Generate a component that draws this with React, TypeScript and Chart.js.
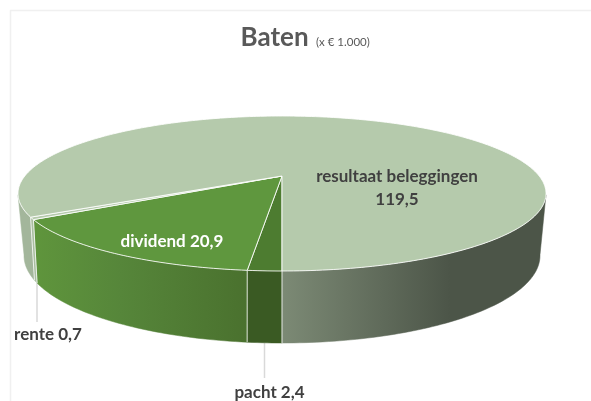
import React, { useEffect, useRef } from "react";
import { Chart, registerables } from "chart.js";

Chart.register(...registerables);

const categories = ["pacht", "dividend", "rente", "resultaat beleggingen"];
const values = [2.4, 20.9, 0.7, 119.5];
const topColors = ["#4d7c30", "#5f973e", "#b5caac", "#b5caac"];
const titleText = "Baten";
const subtitleText = "(x € 1.000)";

const fmt = (v: number) => v.toFixed(1).replace(".", ",");

const CX = 282;
const DEG = Math.PI / 180;
type Lens = { b: number; a: number; k: number; y0: number };
const TOP: Lens = { b: 257.2, a: 73.55, k: 0.2258, y0: 176 };
const BOTTOM: Lens = { b: 249.8, a: 81.9, k: 0.25, y0: 233.8 };

function project(l: Lens, t: number) {
  const u = Math.cos(t);
  const v = Math.sin(t);
  const w = 1 - l.k * v;
  return { x: CX + (l.b * u) / w, y: l.y0 + (l.a * v) / w };
}

const VISIBLE: [number, number][] = [
  [14 * DEG, 166 * DEG],
  [374 * DEG, 526 * DEG],
];

function wallStyle(ctx: CanvasRenderingContext2D, i: number, seg: [number, number]) {
  if (i === 0) return "#3a5a23";
  if (i === 1) {
    const g = ctx.createLinearGradient(35, 0, 248, 0);
    g.addColorStop(0, "#5f953c");
    g.addColorStop(0.4, "#56863a");
    g.addColorStop(1, "#4a712e");
    return g;
  }
  if (i === 2) return "#a9bea0";
  if (seg[0] < 180 * DEG) return "#a3b69b";
  const g = ctx.createLinearGradient(282, 0, 450, 0);
  g.addColorStop(0, "#7c8a75");
  g.addColorStop(1, "#4c5548");
  return g;
}

const pie3d = {
  id: "pie3d",
  beforeDatasetDraw(chart: any) {
    const ctx: CanvasRenderingContext2D = chart.ctx;
    const arcs = chart.getDatasetMeta(0).data as any[];
    const colors = chart.data.datasets[0].backgroundColor as string[];
    const spans = arcs.map((a) => [a.startAngle, a.endAngle] as [number, number]);
    ctx.save();
    ctx.lineJoin = "round";

    // frame
    ctx.strokeStyle = "#f0f0f0";
    ctx.lineWidth = 1.5;
    ctx.beginPath();
    ctx.moveTo(10.5, 401);
    ctx.lineTo(10.5, 10.5);
    ctx.lineTo(591, 10.5);
    ctx.stroke();

    // leader lines
    ctx.strokeStyle = "#d9d9d9";
    ctx.lineWidth = 1.5;
    ctx.beginPath();
    ctx.moveTo(37, 283);
    ctx.lineTo(37, 322);
    ctx.moveTo(264.5, 343);
    ctx.lineTo(264.5, 378);
    ctx.stroke();

    // side walls
    spans.forEach(([s, e], i) => {
      VISIBLE.forEach((range) => {
        const a = Math.max(s, range[0]);
        const b = Math.min(e, range[1]);
        if (b <= a) return;
        const n = Math.max(2, Math.ceil((b - a) / (1 * DEG)));
        ctx.beginPath();
        for (let j = 0; j <= n; j++) {
          const p = project(TOP, a + ((b - a) * j) / n);
          if (j === 0) ctx.moveTo(p.x, p.y);
          else ctx.lineTo(p.x, p.y);
        }
        for (let j = n; j >= 0; j--) {
          const p = project(BOTTOM, a + ((b - a) * j) / n);
          ctx.lineTo(p.x, p.y);
        }
        ctx.closePath();
        const style = wallStyle(ctx, i, range);
        ctx.fillStyle = style;
        ctx.fill();
        ctx.strokeStyle = style;
        ctx.lineWidth = 0.5;
        ctx.stroke();
      });
    });

    // wall dividers
    ctx.strokeStyle = "rgba(255,255,255,0.8)";
    ctx.lineWidth = 1;
    spans.forEach(([s]) => {
      const p = project(TOP, s);
      const q = project(BOTTOM, s);
      ctx.beginPath();
      ctx.moveTo(p.x, p.y);
      ctx.lineTo(q.x, q.y);
      ctx.stroke();
    });

    // top faces
    spans.forEach(([s, e], i) => {
      const n = Math.max(2, Math.ceil((e - s) / (1 * DEG)));
      ctx.beginPath();
      ctx.moveTo(CX, TOP.y0);
      for (let j = 0; j <= n; j++) {
        const p = project(TOP, s + ((e - s) * j) / n);
        ctx.lineTo(p.x, p.y);
      }
      ctx.closePath();
      ctx.fillStyle = colors[i];
      ctx.fill();
      ctx.strokeStyle = "rgba(255,255,255,0.85)";
      ctx.lineWidth = 1;
      ctx.stroke();
    });

    // texts
    ctx.textBaseline = "alphabetic";
    ctx.textAlign = "left";
    ctx.fillStyle = "#595959";
    ctx.font = "bold 26px Lato";
    ctx.fillText(titleText, 240.5, 46);
    ctx.font = "11.5px Lato";
    ctx.fillText(subtitleText, 316, 46);

    ctx.font = "bold 17px Lato";
    ctx.textAlign = "center";
    ctx.fillStyle = "#ffffff";
    ctx.fillText(`${categories[1]} ${fmt(values[1])}`, 172, 247);
    ctx.fillStyle = "#404040";
    ctx.fillText(categories[3], 397, 182);
    ctx.fillText(fmt(values[3]), 397, 205);
    ctx.fillText(`${categories[2]} ${fmt(values[2])}`, 48, 340);
    ctx.fillText(`${categories[0]} ${fmt(values[0])}`, 269.5, 398);
    ctx.restore();
    return false;
  },
};

export default function App() {
  const ref = useRef<HTMLCanvasElement>(null);
  useEffect(() => {
    const chart = new Chart(ref.current!, {
      type: "pie",
      data: {
        labels: categories,
        datasets: [{ data: values, backgroundColor: topColors }],
      },
      options: {
        animation: false,
        responsive: false,
        rotation: 180,
        plugins: { legend: { display: false }, tooltip: { enabled: false } },
      },
      plugins: [pie3d],
    } as any);
    return () => chart.destroy();
  }, []);
  return (
    <div style={{ position: "fixed", left: 0, top: 0, width: 591, height: 401, background: "#fff" }}>
      <canvas ref={ref} width={591} height={401} style={{ display: "block" }} />
    </div>
  );
}
